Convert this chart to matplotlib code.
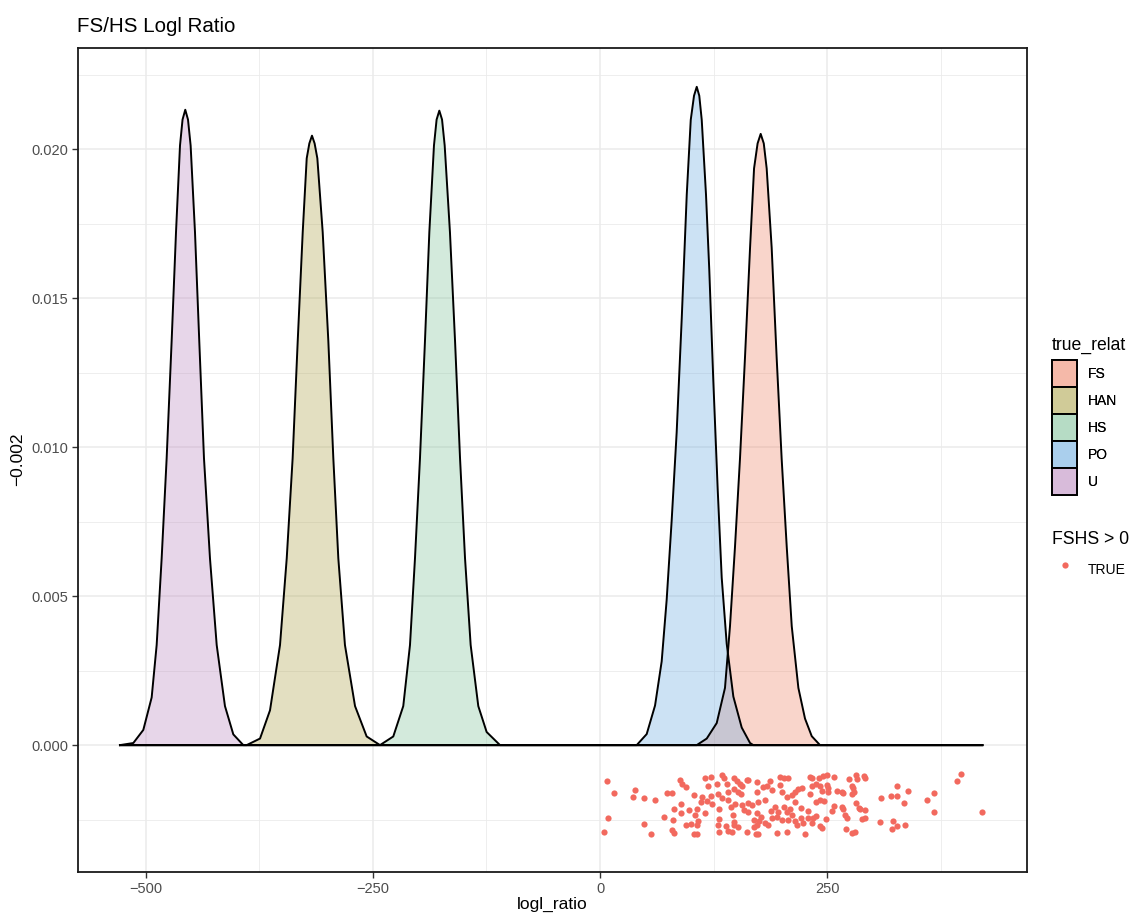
import matplotlib
matplotlib.use("Agg")
import matplotlib.pyplot as plt
import numpy as np
from matplotlib.lines import Line2D
from matplotlib.patches import Patch

plt.rcParams["font.family"] = ["Liberation Sans", "DejaVu Sans"]

# density curves (logl_ratio, density)
groups = ["FS", "HAN", "HS", "PO", "U"]
fills = ["#EE876A", "#AFA64E", "#81C39B", "#6DACE0", "#BD8AC0"]

fs_x = [106.5, 117.5, 128.5, 137.6, 143.1, 148.6, 154.1, 159.6, 165.2, 169.6, 173.5, 176.9,
        180.3, 183.5, 189.0, 194.5, 200.0, 205.6, 211.1, 218.4, 225.7, 233.1, 242.2]
fs_y = [0, 0.00022, 0.00074, 0.00192, 0.00399, 0.00665, 0.00961, 0.0130, 0.0167, 0.01936,
        0.0202, 0.02052, 0.0202, 0.01936, 0.0167, 0.0130, 0.00961, 0.00665, 0.00399, 0.00192,
        0.00089, 0.0003, 0]

han_x = [-389.0, -374.3, -363.3, -352.3, -344.9, -338.4, -332.8, -327.3, -322.9, -320.0,
         -317.1, -314.2, -311.2, -305.3, -299.1, -293.6, -288.1, -280.8, -269.7, -256.9, -242.2]
han_y = [0, 0.00022, 0.00117, 0.00336, 0.00627, 0.00963, 0.01357, 0.01722, 0.0197, 0.0202,
         0.02046, 0.0202, 0.0197, 0.01722, 0.01357, 0.00963, 0.00627, 0.00336, 0.00131,
         0.00029, 0]

hs_x = [-242.2, -227.6, -216.6, -209.2, -203.7, -198.2, -192.7, -187.9, -182.8, -179.9,
        -176.9, -173.9, -171.0, -165.2, -159.6, -154.1, -148.6, -142.4, -134.0, -124.8, -110.1]
hs_y = [0, 0.00029, 0.00131, 0.00336, 0.00627, 0.00963, 0.01357, 0.01722, 0.02013, 0.0210,
        0.0213, 0.0210, 0.02013, 0.01722, 0.01357, 0.00963, 0.00627, 0.00336, 0.00131,
        0.00044, 0]

po_x = [40.4, 51.4, 60.6, 67.9, 73.4, 78.9, 84.4, 90.0, 95.5, 99.9, 103.5, 106.5, 109.3,
        112.0, 116.7, 120.3, 124.7, 129.6, 134.0, 139.5, 146.8, 156.0, 165.2, 168.8]
po_y = [0, 0.00037, 0.00133, 0.00281, 0.00488, 0.00754, 0.0105, 0.01434, 0.01848, 0.02099,
        0.0218, 0.0221, 0.0218, 0.02099, 0.01848, 0.01596, 0.01227, 0.00857, 0.00562, 0.0034,
        0.00163, 0.00059, 0.00007, 0]

u_x = [-528.5, -513.8, -502.8, -493.6, -488.1, -482.6, -477.1, -471.6, -466.8, -462.4,
       -459.6, -456.6, -453.6, -450.7, -445.9, -441.2, -436.0, -429.4, -422.0, -412.9,
       -403.7, -392.7]
u_y = [0, 0.00007, 0.00051, 0.0016, 0.00336, 0.00627, 0.00963, 0.01357, 0.01722, 0.02013,
       0.0210, 0.02133, 0.0210, 0.02013, 0.01722, 0.01357, 0.00963, 0.00627, 0.00336,
       0.00131, 0.00036, 0]

curve_x = [fs_x, han_x, hs_x, po_x, u_x]
curve_y = [fs_y, han_y, hs_y, po_y, u_y]

# jittered FSHS > 0 points (logl_ratio, jittered y around -0.002)
pt_x = [8.0, 15.7, 9.1, 4.7, 38.9, 36.0, 48.1, 60.2, 48.1, 56.2, 73.4, 78.9, 88.1, 90.0,
        94.4, 103.8, 81.8, 88.9, 89.5, 98.3, 70.8, 80.4, 94.4, 99.9, 78.9, 81.1, 103.8,
        115.6, 122.2, 134.7, 136.9, 147.9, 150.5, 161.5, 163.3, 172.5, 183.5, 187.2, 198.2,
        202.9, 207.3, 119.2, 128.5, 139.5, 154.1, 156.0, 112.6, 122.2, 130.2, 134.7, 141.3,
        147.9, 151.6, 155.2, 172.5, 179.8, 189.0, 198.2, 200.7, 205.6, 211.1, 111.2, 117.5,
        123.6, 141.3, 148.6, 156.0, 162.6, 167.7, 174.3, 181.7, 192.7, 202.9, 209.2, 106.5,
        131.0, 144.2, 158.9, 163.3, 172.5, 188.3, 196.3, 205.6, 104.6, 115.6, 146.8, 177.3,
        189.0, 194.5, 211.1, 108.2, 131.0, 147.9, 169.9, 175.1, 181.7, 200.0, 207.3, 106.5,
        130.2, 138.4, 147.9, 151.6, 169.9, 172.5, 185.3, 131.0, 141.3, 145.7, 161.5, 171.4,
        174.3, 194.5, 205.6, 106.5,
        231.2, 233.8, 241.1, 245.9, 249.6, 258.0, 274.1, 281.5, 282.6, 291.0, 291.8, 222.1,
        233.1, 237.5, 242.2, 249.6, 250.7, 277.8, 278.9, 214.7, 218.3, 231.2, 244.1, 251.4,
        260.6, 266.1, 267.9, 277.8, 280.0, 214.7, 237.5, 242.2, 247.0, 258.0, 266.1, 267.9,
        281.5, 285.2, 309.4, 320.0, 221.3, 229.3, 255.1, 286.3, 291.8, 214.7, 221.3, 229.3,
        234.8, 237.5, 248.5, 269.7, 271.6, 288.1, 291.8, 308.3, 322.9, 216.6, 223.8, 233.1,
        242.2, 244.8, 270.5, 277.8, 280.8, 321.2, 225.7,
        326.7, 326.7, 338.8, 335.1, 359.7, 368.1, 367.7, 326.7, 336.1, 393.4, 397.1, 420.9]
pt_y = [-0.00120, -0.00160, -0.00246, -0.00292, -0.00152, -0.00173, -0.00179, -0.00185,
        -0.00266, -0.00299, -0.00162, -0.00162, -0.00117, -0.00129, -0.00140, -0.00168,
        -0.00215, -0.00199, -0.00228, -0.00217, -0.00241, -0.00253, -0.00269, -0.00266,
        -0.00285, -0.00296, -0.00299,
        -0.00110, -0.00106, -0.00101, -0.00112, -0.00110, -0.00121, -0.00117, -0.00117,
        -0.00123, -0.00137, -0.00121, -0.00106, -0.00110, -0.00112, -0.00138, -0.00132,
        -0.00132, -0.00129, -0.00137, -0.00173, -0.00170, -0.00165, -0.00179, -0.00159,
        -0.00148, -0.00157, -0.00165, -0.00157, -0.00140, -0.00151, -0.00134, -0.00157,
        -0.00173, -0.00168, -0.00190, -0.00188, -0.00199, -0.00185, -0.00199, -0.00201,
        -0.00196, -0.00201, -0.00190, -0.00185, -0.00207, -0.00207, -0.00213, -0.00213,
        -0.00215, -0.00207, -0.00218, -0.00224, -0.00229, -0.00221, -0.00224, -0.00224,
        -0.00235, -0.00229, -0.00235, -0.00241, -0.00246, -0.00241, -0.00235, -0.00255,
        -0.00248, -0.00257, -0.00252, -0.00255, -0.00260, -0.00252, -0.00252, -0.00268,
        -0.00268, -0.00272, -0.00268, -0.00274, -0.00274, -0.00268, -0.00268, -0.00293,
        -0.00289, -0.00291, -0.00291, -0.00300, -0.00300, -0.00296, -0.00291, -0.00299,
        -0.00106, -0.00110, -0.00110, -0.00103, -0.00101, -0.00106, -0.00114, -0.00101,
        -0.00114, -0.00103, -0.00110, -0.00145, -0.00137, -0.00129, -0.00137, -0.00134,
        -0.00143, -0.00137, -0.00145, -0.00157, -0.00148, -0.00165, -0.00154, -0.00157,
        -0.00154, -0.00157, -0.00162, -0.00165, -0.00157, -0.00192, -0.00192, -0.00185,
        -0.00188, -0.00204, -0.00207, -0.00215, -0.00196, -0.00210, -0.00176, -0.00170,
        -0.00210, -0.00221, -0.00221, -0.00215, -0.00218, -0.00255, -0.00246, -0.00244,
        -0.00246, -0.00237, -0.00248, -0.00235, -0.00244, -0.00248, -0.00244, -0.00257,
        -0.00255, -0.00268, -0.00260, -0.00263, -0.00271, -0.00277, -0.00280, -0.00296,
        -0.00291, -0.00280, -0.00299,
        -0.00137, -0.00170, -0.00153, -0.00196, -0.00185, -0.00162, -0.00224, -0.00271,
        -0.00269, -0.00121, -0.00098, -0.00224]

x_ticks = [-500, -250, 0, 250]
y_ticks = [0.000, 0.005, 0.010, 0.015, 0.020]
POINT = "#F2695E"
GRID = "#EBEBEB"
W, H = 1130, 914

fig = plt.figure(figsize=(W / 100, H / 100), dpi=100)
ax = fig.add_axes([78 / W, 1 - 872 / H, (1027 - 78) / W, (872 - 47.5) / H])

x_lo = min(min(c) for c in curve_x)
x_hi = max(pt_x)
for cx, cy, col in zip(curve_x, curve_y, fills):
    xs = np.concatenate([[x_lo], cx, [x_hi]])
    ys = np.concatenate([[0], cy, [0]])
    ax.fill_between(xs, ys, 0, facecolor=col, alpha=0.35, linewidth=0, zorder=2)
    ax.plot(xs, ys, color="black", linewidth=1.4, solid_joinstyle="round", zorder=3)

ax.scatter(pt_x, pt_y, s=20, color=POINT, linewidths=0, zorder=4)

ax.set_xlim(-574.7, 470.1)
ax.set_ylim(-0.00426, 0.02342)
ax.set_xticks(x_ticks)
ax.set_xticklabels([f"{v}".replace("-", "\u2212") for v in x_ticks])
ax.set_yticks(y_ticks)
ax.set_yticklabels([f"{v:.3f}" for v in y_ticks])
ax.set_xticks([-375, -125, 125, 375], minor=True)
ax.set_yticks([-0.0025, 0.0025, 0.0075, 0.0125, 0.0175, 0.0225], minor=True)
ax.grid(which="major", color=GRID, linewidth=1.1, zorder=0)
ax.grid(which="minor", color=GRID, linewidth=0.6, zorder=0)
ax.set_axisbelow(True)
ax.tick_params(which="major", length=4, width=1, color="#333333",
               labelcolor="#4D4D4D", labelsize=10.5, pad=3)
ax.tick_params(which="minor", length=0)
for s in ax.spines.values():
    s.set_color("#1A1A1A")
    s.set_linewidth(1.3)

fig.text(77 / W, 1 - 27 / H, "FS/HS Logl Ratio", fontsize=14.8, va="center", ha="left")
fig.text(552 / W, 1 - 904 / H, "logl_ratio", fontsize=12.5, va="center", ha="center")
fig.text(18 / W, 1 - 459 / H, "\u22120.002", fontsize=12.5, va="center", ha="center",
         rotation=90)

# legends: titles as plain text, entries packed below them
fig.text(1052 / W, 1 - 345 / H, "true_relat", fontsize=12.7, va="center", ha="left")
fig.text(1052 / W, 1 - 540 / H, "FSHS > 0", fontsize=12.7, va="center", ha="left")

handles = [Patch(facecolor=matplotlib.colors.to_rgba(c, 0.35), edgecolor="black", linewidth=1.3)
           for c in fills]
leg1 = fig.legend(handles, groups, loc="upper left",
                  bbox_to_anchor=(1052 / W, 1 - 360.5 / H), frameon=False,
                  fontsize=10, handlelength=1.8, handleheight=2.61, labelspacing=0.0,
                  handletextpad=0.79, borderpad=0.0, borderaxespad=0.0)
fig.add_artist(leg1)
pt_handle = [Line2D([], [], marker="o", linestyle="none", color=POINT, markersize=4.5,
                    markeredgewidth=0)]
fig.legend(pt_handle, ["TRUE"], loc="upper left",
           bbox_to_anchor=(1052 / W, 1 - 556.5 / H), frameon=False,
           fontsize=10, handlelength=1.8, handleheight=2.61, handletextpad=0.79,
           borderpad=0.0, borderaxespad=0.0)

fig.savefig("out.png", dpi=100)
